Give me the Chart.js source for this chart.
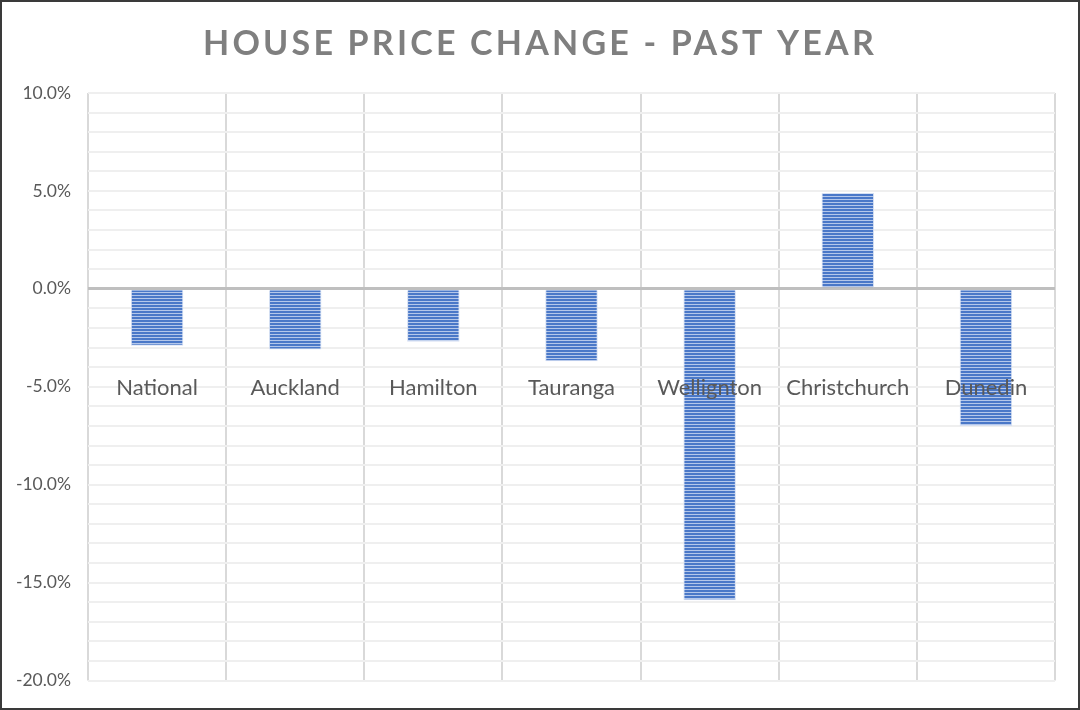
<!DOCTYPE html>
<html>
<head>
<meta charset="utf-8">
<script src="https://cdn.jsdelivr.net/npm/chart.js@4/dist/chart.umd.min.js"></script>
<style>
  html, body { margin: 0; padding: 0; background: #fff; }
  #wrap {
    width: 1080px; height: 710px; box-sizing: border-box;
    border: 2px solid #3a3a3a; background: #fff;
  }
  #grafico { display: block; }
</style>
</head>
<body>
<div id="wrap"><canvas id="grafico" width="1076" height="706"></canvas></div>
<script>
const titulo = 'HOUSE PRICE CHANGE - PAST YEAR';
const cidades = ['National', 'Auckland', 'Hamilton', 'Tauranga', 'Wellignton', 'Christchurch', 'Dunedin'];
const variacao = [-2.9, -3.1, -2.7, -3.7, -15.9, 4.9, -7.0];
const eixoMin = -20;
const eixoMax = 10;
const passoRotulo = 5;

// listras horizontais das barras
function criarPadrao() {
  const c = document.createElement('canvas');
  c.width = 4; c.height = 3;
  const g = c.getContext('2d');
  g.fillStyle = '#4a78c8';
  g.fillRect(0, 0, 4, 3);
  g.fillStyle = '#b4c7ea';
  g.fillRect(0, 2, 4, 1);
  return g.createPattern(c, 'repeat');
}

const fonte = "Lato, 'Open Sans', sans-serif";

const tituloPlugin = {
  id: 'tituloEspacado',
  afterDraw(chart) {
    const ctx = chart.ctx;
    ctx.save();
    ctx.font = `bold 34px ${fonte}`;
    ctx.fillStyle = '#7f7f7f';
    ctx.textAlign = 'center';
    ctx.textBaseline = 'middle';
    ctx.letterSpacing = '3.2px';
    ctx.fillText(titulo, chart.width / 2, 42);
    ctx.restore();
  }
};

const ctx = document.getElementById('grafico');

new Chart(ctx, {
  type: 'bar',
  data: {
    labels: cidades,
    datasets: [{
      data: variacao,
      backgroundColor: criarPadrao(),
      borderColor: '#d6e0f3',
      borderWidth: 1,
      barPercentage: 0.38,
      categoryPercentage: 1
    }]
  },
  options: {
    responsive: false,
    animation: false,
    layout: { padding: { top: 91, right: 23, bottom: 24, left: 0 } },
    plugins: {
      legend: { display: false },
      title: { display: false },
      tooltip: { enabled: false }
    },
    scales: {
      x: {
        position: { y: -4 },
        afterFit(scale) { scale.height = 0; },
        grid: { color: '#d9d9d9', lineWidth: 2, drawTicks: false, offset: true },
        border: { display: false },
        ticks: { z: 1, color: '#595959', font: { family: fonte, size: 22 }, padding: 8 }
      },
      y: {
        min: eixoMin,
        max: eixoMax,
        afterFit(scale) { scale.width = 86; },
        grid: {
          drawTicks: false,
          color: c => c.tick && c.tick.value === 0 ? '#bfbfbf' : '#efefef',
          lineWidth: c => c.tick && c.tick.value === 0 ? 3 : 2
        },
        border: { display: false },
        ticks: {
          stepSize: 1,
          autoSkip: false,
          padding: 17,
          color: '#595959',
          font: { family: fonte, size: 17.5 },
          callback: v => v % passoRotulo === 0 ? v.toFixed(1) + '%' : ''
        }
      }
    }
  },
  plugins: [tituloPlugin]
});
</script>
</body>
</html>
